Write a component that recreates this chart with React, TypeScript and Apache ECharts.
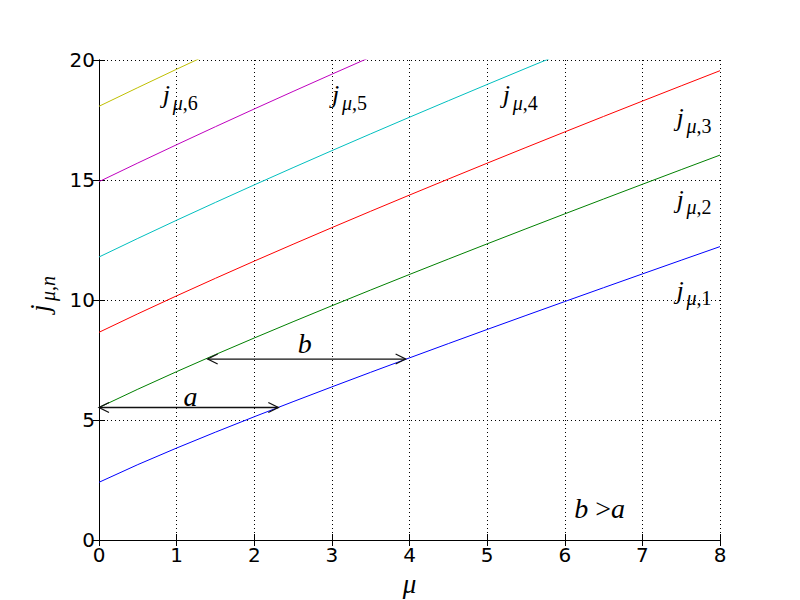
import React, { useEffect, useRef } from "react";
import * as echarts from "echarts";

const mu = [0, 0.5, 1, 1.5, 2, 2.5, 3, 3.5, 4, 4.5, 5, 5.5, 6, 6.5, 7, 7.5, 8];
const j1 = [2.4048, 3.1416, 3.8317, 4.4934, 5.1356, 5.7635, 6.3802, 6.9879, 7.5883, 8.1826, 8.7715, 9.3558, 9.9361, 10.5128, 11.0864, 11.657, 12.2251];
const j2 = [5.5201, 6.2832, 7.0156, 7.7253, 8.4172, 9.095, 9.761, 10.4171, 11.0647, 11.7049, 12.3386, 12.9665, 13.5893, 14.2074, 14.8213, 15.4313, 16.0378];
const j3 = [8.6537, 9.4248, 10.1735, 10.9041, 11.6198, 12.3229, 13.0152, 13.698, 14.3725, 15.0397, 15.7002, 16.3547, 17.0038, 17.648, 18.2876, 18.923, 19.5545];
const j4 = [11.7915, 12.5664, 13.3237, 14.0662, 14.796, 15.5146, 16.2235, 16.9236, 17.616, 18.3013, 18.9801, 19.6532, 20.3208];
const j5 = [14.9309, 15.708, 16.4706, 17.2208, 17.9598, 18.689, 19.4094, 20.1218];
const j6 = [18.0711, 18.8496, 19.6159, 20.3713];
const seriesValues = [j1, j2, j3, j4, j5, j6];
const seriesColors = ["#0000ff", "#008000", "#ff0000", "#00bfbf", "#bf00bf", "#bfbf00"];

const xTicks = [0, 1, 2, 3, 4, 5, 6, 7, 8];
const yTicks = [0, 5, 10, 15, 20];

// labels: [mu, value] and subscript index
const labelPos = [[7.44, 10.4], [7.44, 14.2], [7.44, 17.6], [5.2, 18.55], [3.0, 18.55], [0.82, 18.55]];
const labelSubs = ["1", "2", "3", "4", "5", "6"];

// arrows: [x0, x1, y]
const arrows = [[0, 2.31, 5.52], [1.4, 3.95, 7.54]];
const letterPos = [[1.18, 6.0], [2.65, 8.2], [6.45, 1.33]];
const letterTexts = ["{i|a}", "{i|b}", "{i|b}{r| >}{i|a}"];

const SERIF = "'Liberation Serif', 'DejaVu Serif', serif";

const subRich = {
  i: { fontSize: 20, fontStyle: "italic", fontFamily: SERIF, fill: "#000", color: "#000" },
  r: { fontSize: 20, fontFamily: SERIF, fill: "#000", color: "#000" },
};
const bigRich = {
  i: { fontSize: 28, fontStyle: "italic", fontFamily: SERIF, fill: "#000", color: "#000" },
  r: { fontSize: 28, fontFamily: SERIF, fill: "#000", color: "#000" },
};

export default function App() {
  const ref = useRef<HTMLDivElement>(null);
  useEffect(() => {
    const chart = echarts.init(ref.current!, null, { renderer: "svg" });
    const axisCommon = {
      type: "value" as const,
      axisLine: { show: true, lineStyle: { color: "#000", width: 1 } },
      axisTick: { show: true, inside: true, length: 6, lineStyle: { color: "#000" } },
    };
    const lineSeries = seriesValues.map((vals, i) => ({
      type: "line",
      data: vals.map((v, k) => [mu[k], v]),
      showSymbol: false,
      symbol: "none",
      lineStyle: { color: seriesColors[i], width: 1 },
      clip: true,
      z: 3,
    }));
    chart.setOption({
      animation: false,
      backgroundColor: "#fff",
      grid: { left: 99, right: 80, top: 60, bottom: 60, outerBoundsMode: "none", containLabel: false },
      xAxis: [
        {
          ...axisCommon,
          min: 0, max: 8, interval: 1,
          position: "bottom",
          axisLabel: { color: "#000", fontSize: 20, fontFamily: "DejaVu Sans", margin: 5, formatter: (v: number) => (xTicks.includes(v) ? String(v) : "") },
          splitLine: { show: true, lineStyle: { color: "#000", width: 1, type: [1, 3] } },
          name: "μ",
          nameLocation: "middle",
          nameGap: 30,
          nameTextStyle: { color: "#000", fontSize: 27, fontStyle: "italic", fontFamily: SERIF },
        },
        {
          ...axisCommon,
          min: 0, max: 8, interval: 1,
          position: "top",
          axisLabel: { show: false },
          splitLine: { show: false },
        },
      ],
      yAxis: [
        {
          ...axisCommon,
          min: 0, max: 20, interval: 5,
          position: "left",
          axisLabel: { color: "#000", fontSize: 20, fontFamily: "DejaVu Sans", margin: 4, formatter: (v: number) => (yTicks.includes(v) ? String(v) : "") },
          splitLine: { show: true, lineStyle: { color: "#000", width: 1, type: [1, 3] } },
        },
        {
          ...axisCommon,
          min: 0, max: 20, interval: 5,
          position: "right",
          axisLabel: { show: false },
          splitLine: { show: false },
        },
      ],
      series: [
        ...lineSeries,
        {
          type: "custom",
          clip: false,
          z: 5,
          data: arrows,
          renderItem: (params: any, api: any) => {
            const p0 = api.coord([api.value(0), api.value(2)]);
            const p1 = api.coord([api.value(1), api.value(2)]);
            const h = 10, w = 5;
            const st = { stroke: "#111", lineWidth: 1.3, fill: null };
            return {
              type: "group",
              children: [
                { type: "line", shape: { x1: p0[0], y1: p0[1], x2: p1[0], y2: p1[1] }, style: st },
                { type: "polyline", shape: { points: [[p0[0] + h, p0[1] - w], [p0[0], p0[1]], [p0[0] + h, p0[1] + w]] }, style: st },
                { type: "polyline", shape: { points: [[p1[0] - h, p1[1] - w], [p1[0], p1[1]], [p1[0] - h, p1[1] + w]] }, style: st },
              ],
            };
          },
        },
        {
          type: "custom",
          clip: false,
          z: 6,
          data: labelPos,
          renderItem: (params: any, api: any) => {
            const p = api.coord([api.value(0), api.value(1)]);
            return {
              type: "group",
              children: [
                { type: "text", x: p[0], y: p[1], style: { text: "j", fontSize: 26, fontStyle: "italic", fontFamily: SERIF, fill: "#000", align: "left", verticalAlign: "middle" } },
                { type: "text", x: p[0] + 10, y: p[1] + 8, style: { text: "{i|μ}{r|," + labelSubs[params.dataIndex] + "}", rich: subRich, align: "left", verticalAlign: "middle" } },
              ],
            };
          },
        },
        {
          type: "custom",
          clip: false,
          z: 6,
          data: letterPos,
          renderItem: (params: any, api: any) => {
            const p = api.coord([api.value(0), api.value(1)]);
            return {
              type: "text", x: p[0], y: p[1],
              style: { text: letterTexts[params.dataIndex], rich: bigRich, align: "center", verticalAlign: "middle" },
            };
          },
        },
      ],
      graphic: [
        {
          type: "group",
          x: 40, y: 300,
          rotation: Math.PI / 2,
          children: [
            { type: "text", x: -12, y: 0, style: { text: "j", fontSize: 27, fontStyle: "italic", fontFamily: SERIF, fill: "#000", align: "left", verticalAlign: "middle" } },
            { type: "text", x: -1, y: 8, style: { text: "{i|μ}{r|,}{i|n}", rich: subRich, align: "left", verticalAlign: "middle" } },
          ],
        },
      ],
    });
    return () => chart.dispose();
  }, []);
  return <div ref={ref} style={{ position: "fixed", left: 0, top: 0, width: 800, height: 600, background: "#fff" }} />;
}
